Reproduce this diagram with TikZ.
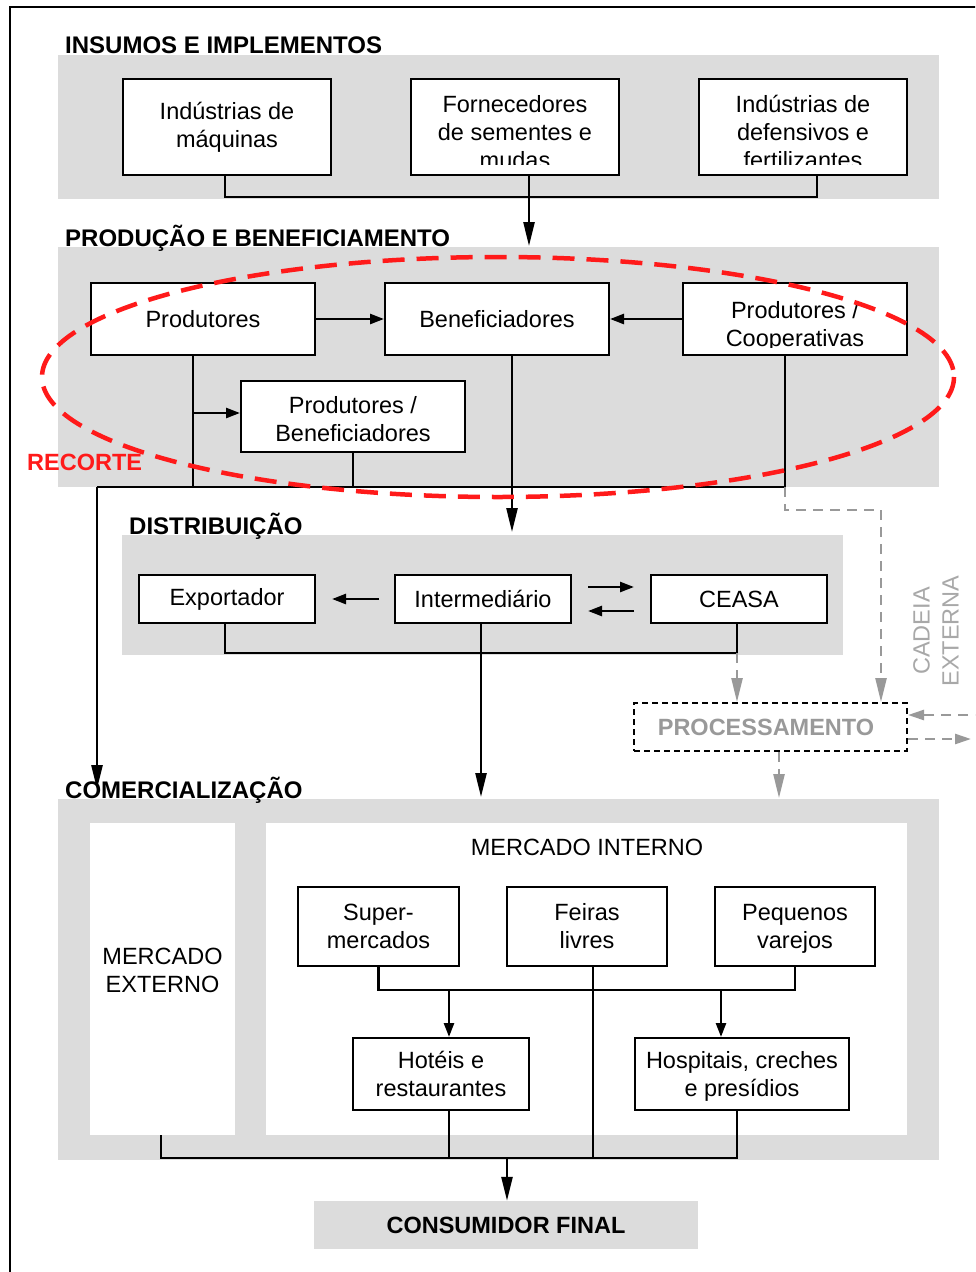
\documentclass[tikz,border=0pt]{standalone}
\usepackage{fontspec}
\setmainfont{Liberation Sans}
\usetikzlibrary{arrows.meta}
\definecolor{bandgray}{HTML}{DCDCDC}
\definecolor{dgray}{HTML}{999999}
\definecolor{rred}{HTML}{FF1A1A}
\begin{document}
\begin{tikzpicture}[x=1pt,y=-1pt,
  every node/.style={font=\fontsize{23.5}{28}\selectfont},
  box/.style={draw=black, line width=2pt, fill=white, inner sep=0pt, align=center},
  band/.style={fill=bandgray, draw=none},
  head/.style={font=\fontsize{24}{28}\selectfont\bfseries, anchor=base west, inner sep=0pt},
  conn/.style={line width=2.5pt},
  arrL/.style={conn, -{Triangle[length=24pt,width=11pt]}},
  arrS/.style={conn, -{Triangle[length=14pt,width=10pt]}},
  gline/.style={dgray, line width=2.5pt, dash pattern=on 10pt off 7pt},
  garr/.style={gline, -{Triangle[length=24pt,width=11pt]}},
  garrS/.style={gline, -{Triangle[length=16pt,width=10pt]}},
]
\clip (0,0) rectangle (975,1272);
\fill[white] (0,0) rectangle (975,1272);
% outer frame
\draw[line width=2.5pt] (10,1290) -- (10,7) -- (990,7);

% ---------- bands ----------
\fill[band] (58,55) rectangle (939,199);
\fill[band] (58,247) rectangle (939,487);
\fill[band] (122,535) rectangle (843,655);
\fill[band] (58,799) rectangle (939,1160);

\node[head] (h1) at (65,53) {INSUMOS E IMPLEMENTOS};
\node[head] (h2) at (65,246) {PRODUÇÃO E BENEFICIAMENTO};
\node[head] (h3) at (129,534) {DISTRIBUIÇÃO};
\node[head] (h4) at (65,798) {COMERCIALIZAÇÃO};

% ---------- insumos ----------
\node[box, minimum width=208, minimum height=96] (maq) at (227,127) {Indústrias de\\máquinas};
\node[box, minimum width=208, minimum height=96] (forn) at (515,127) {};
\node[box, minimum width=208, minimum height=96] (defe) at (803,127) {};
\begin{scope}
  \clip (412,80) rectangle (618,164.5);
  \node[align=center, inner sep=0pt] (fornt) at (515,132) {Fornecedores\\de sementes e\\mudas};
\end{scope}
\begin{scope}
  \clip (700,80) rectangle (906,164.5);
  \node[align=center, inner sep=0pt] (defet) at (803,132) {Indústrias de\\defensivos e\\fertilizantes};
\end{scope}
\coordinate (ij) at (529,197);
\draw[conn] (maq.south -| 225,0) |- (ij) -| (defe.south -| 817,0);
\draw[arrL] (forn.south -| ij) -- (529,246);

% ---------- producao ----------
\node[box, minimum width=224, minimum height=72] (prod) at (203,319) {Produtores};
\node[box, minimum width=224, minimum height=72] (benef) at (497,319) {Beneficiadores};
\node[box, minimum width=224, minimum height=72] (coop) at (795,319) {};
\begin{scope}
  \clip (684,284) rectangle (906,347);
  \node[align=center, inner sep=0pt] (coopt) at (795,326) {Produtores /\\Cooperativas};
\end{scope}
\node[box, minimum width=224, minimum height=71] (pben) at (353,416) {};
\node[align=center, inner sep=0pt] (pbent) at (353,419) {Produtores /\\Beneficiadores};

\draw[arrS] (prod.east) -- (benef.west);
\draw[arrS] (coop.west) -- (benef.east);
\coordinate (pj) at (97,487);
\coordinate (prodb) at ([xshift=-10pt]prod.south);
\coordinate (coopb) at ([xshift=-10pt]coop.south);
\coordinate (benb) at ([xshift=15pt]benef.south);
\draw[conn] (prodb) -- (prodb |- pj);
\draw[arrS] (prodb |- 0,413) -- (pben.west |- 0,413);
\draw[conn] (pben.south) -- (pben.south |- pj);
\draw[conn] (coopb) -- (coopb |- pj) -- (pj);
\coordinate (lt) at (97,789);
\draw[arrL] (pj) -- (lt);

% ---------- distribuicao ----------
\node[box, minimum width=176, minimum height=48] (expo) at (227,599) {Exportador};
\node[box, minimum width=176, minimum height=48] (inter) at (483,599) {Intermediário};
\node[box, minimum width=176, minimum height=48] (cea) at (739,599) {CEASA};
\draw[arrL] (benb) -- (benb |- 0,532);
\draw[arrS] ([xshift=-15pt]inter.west) -- ([xshift=16pt]expo.east);
\draw[arrS] ([xshift=16pt,yshift=12pt]inter.east) -- ([xshift=-16pt,yshift=12pt]cea.west);
\draw[arrS] ([xshift=-16pt,yshift=-12pt]cea.west) -- ([xshift=16pt,yshift=-12pt]inter.east);
\coordinate (dj) at (481,653);
\draw[conn] ([xshift=-2pt]expo.south) |- (dj) -| ([xshift=-2pt]cea.south);
\draw[arrL] ([xshift=-2pt]inter.south) -- (481,797);

% ---------- processamento ----------
\node[draw=black, line width=2pt, dash pattern=on 6pt off 4pt, minimum width=273, minimum height=48,
      inner sep=0pt, text=dgray, font=\fontsize{23.5}{28}\selectfont\bfseries] (proc) at (770.5,727) {\hspace*{-9pt}PROCESSAMENTO};
\draw[garr] (737,653) -- (737,702);
\coordinate (g1) at (881,510);
\draw[garr] (coopb |- pj) |- (g1) -- (g1 |- proc.north);
\draw[garrS] (985,715) -- (proc.east |- 0,715);
\draw[garrS] (proc.east |- 0,739) -- (971,739);
\draw[garr] (proc.south -| 779,0) -- (779,798);
\node[rotate=90, align=center, text=dgray!85, inner sep=0pt, font=\fontsize{23.5}{29}\selectfont] (cad) at (936,631) {CADEIA\\EXTERNA};

% ---------- comercializacao ----------
\node[fill=white, minimum width=145, minimum height=312, inner sep=0pt] (mextbox) at (162.5,979) {};
\node[align=center, inner sep=0pt] (mextt) at (162.5,970) {MERCADO\\EXTERNO};
\node[fill=white, minimum width=641, minimum height=312, inner sep=0pt] (mint) at (586.5,979) {};
\node[inner sep=0pt] (mintt) at (587,847) {MERCADO INTERNO};

\node[box, minimum width=161, minimum height=79] (sup) at (378.5,926.5) {Super-\\mercados};
\node[box, minimum width=160, minimum height=79] (fei) at (587,926.5) {Feiras\\livres};
\node[box, minimum width=160, minimum height=79] (peq) at (795,926.5) {};
\node[align=center, inner sep=0pt] (peqt) at (795,928.5) {Pequenos\\varejos};
\node[box, minimum width=176, minimum height=72] (hot) at (441,1074) {Hotéis e\\restaurantes};
\node[box, minimum width=214, minimum height=72] (hos) at (742,1074) {};
\node[align=center, inner sep=0pt] (host) at (742,1076) {Hospitais, creches\\e presídios};

\coordinate (mi) at (587,990);
\draw[conn] (sup.south) |- (mi) -| (peq.south);
\coordinate (hotb) at ([xshift=8pt]hot.south);
\coordinate (hosb) at ([xshift=-5pt]hos.south);
\coordinate (feib) at ([xshift=6pt]fei.south);
\draw[arrS] (hotb |- mi) -- ([xshift=8pt]hot.north);
\draw[arrS] ([xshift=-21pt]hos.north |- mi) -- ([xshift=-21pt]hos.north);

\node[fill=bandgray, minimum width=384, minimum height=48, inner sep=0pt,
      font=\fontsize{23.5}{28}\selectfont\bfseries] (cons) at (506,1225) {CONSUMIDOR FINAL};
\coordinate (cb) at (507,1158);
\draw[conn] ([xshift=-1.5pt]mextbox.south) |- (cb) -| (hosb);
\draw[conn] (hotb) -- (hotb |- cb);
\draw[conn] (feib) -- (feib |- cb);
\draw[arrL] (cb) -- (cb |- cons.north);

% ---------- recorte ----------
\draw[rred, line width=4.5pt, dash pattern=on 22pt off 12pt] (498,377) ellipse [x radius=456, y radius=120];
\node[text=rred, font=\fontsize{23.5}{28}\selectfont\bfseries, anchor=base west, inner sep=0pt] (rec) at (27,470) {RECORTE};
\end{tikzpicture}
\end{document}
